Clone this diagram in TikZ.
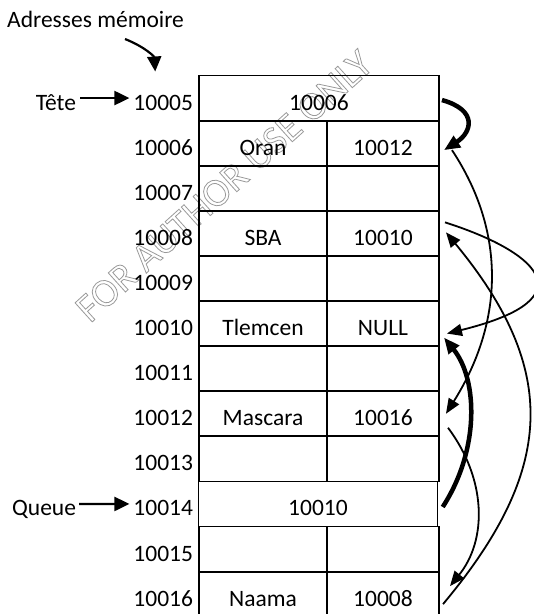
\documentclass[tikz,border=0pt]{standalone}
\usepackage{fontspec}
\setmainfont{Carlito}
\usetikzlibrary{arrows.meta,calc}

% outlined (stroked, unfilled) lettering
\newcommand{\hollowtext}[1]{\special{pdf:literal direct 1 Tr 0.8 w}#1\special{pdf:literal direct 0 Tr}}

\begin{document}
\begin{tikzpicture}[x=1pt,y=-1pt,
  txt/.style={font=\fontsize{23.5}{26}\selectfont},
  celltext/.style={txt, inner sep=0pt, outer sep=0pt, minimum height=45.1pt,
                   text height=24pt, text depth=0pt},
  cell/.style={celltext, draw, line width=1.8pt},
  addr/.style={celltext, anchor=east},
  ptr/.style={line width=2.2pt, -{Triangle[length=15pt,width=14pt]}},
  thinlink/.style={line width=1.8pt, -{Triangle[length=15pt,width=12pt]}},
  thicklink/.style={line width=4.5pt, -{Triangle[length=16pt,width=13pt]}},
  mark text/.style={rotate=42, text=black!40, font=\fontsize{40}{40}\selectfont}]

\useasboundingbox (0,0) rectangle (534,614);
\clip (0,0) rectangle (534,614);

% watermark lettering behind the table
\node[mark text] (wm) at (224,186) {\hollowtext{FOR AUTHOR USE ONLY}};

% address column
\foreach \i/\lab in {0/10005,1/10006,2/10007,3/10008,4/10009,5/10010,
                     6/10011,7/10012,8/10013,9/10014,10/10015,11/10016}
  \node[addr] (a\i) at (193,{98.05+45.1*\i}) {\lab};

% two-field cells: value | next
\foreach \i/\l/\r in {1/Oran/10012, 2//, 3/SBA/10010, 4//, 5/Tlemcen/NULL,
                      6//, 7/Mascara/10016, 8//, 10//, 11/Naama/10008}{
  \node[cell, minimum width=128pt] (L\i) at (263,{98.05+45.1*\i}) {\l};
  \node[cell, minimum width=112pt] (R\i) at (383,{98.05+45.1*\i}) {\r};
}

% single-field cells: head and tail pointers
\node[cell, minimum width=240pt] (F0) at (319,98.05) {10006};
\node[cell, line width=1.3pt, minimum width=239.4pt] (F9) at (318,503.95) {10010};

% side labels
\node[txt, anchor=base west, inner sep=0pt] (adr) at (7,27) {Adresses mémoire};
\node[addr] (tete) at (76,98.05) {Tête};
\node[addr] (queue) at (76,503.95) {Queue};

\coordinate (memtip) at ($(a0.north)+(-8,-4)$);
\draw[ptr] ($(adr.base west)+(118,12)$) .. controls +(20,8) and +(-1,-15) .. (memtip);
\draw[ptr] ([xshift=4pt]tete.east) -- ([xshift=-4pt]a0.west);
\draw[ptr] ([xshift=3pt]queue.east) -- ([xshift=-4pt]a9.west);

% links of the list
\draw[thicklink] ($(F0.east)+(3,2)$) .. controls +(36,10) and +(28,-18) .. ($(R1.east)+(5,7)$);
\draw[thinlink] ($(R1.east)+(13,7)$) .. controls +(53,80) and +(59,-94) .. ($(R7.east)+(7,0)$);
\draw[thinlink] ($(R7.east)+(9,14)$) .. controls +(39,52) and +(37,-46) .. ($(R11.east)+(11,-8)$);
\draw[thinlink] ($(R11.east)+(4,10)$) .. controls +(112,-134) and +(114,138) .. ($(R3.east)+(7,-1)$);
\draw[thinlink] ($(R3.east)+(6,-11)$) .. controls +(88,28) and +(146,-36) .. ($(R5.east)+(8,10)$);
\draw[thicklink] ($(F9.east)+(5,3)$) .. controls +(37,-57) and +(34,42) .. ($(R5.east)+(5,14)$);

\end{tikzpicture}
\end{document}
